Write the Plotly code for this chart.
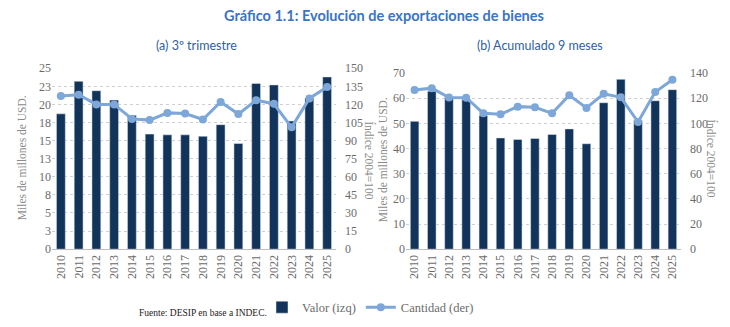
import plotly.graph_objects as go

years = [str(y) for y in range(2010, 2026)]

# (a) 3er trimestre
valor_a = [18.7, 23.2, 21.9, 20.6, 18.5, 15.9, 15.8, 15.8, 15.6, 17.2, 14.6, 22.9, 22.7, 17.7, 20.9, 23.8]
cant_a = [127, 128, 120, 120, 108, 107, 113, 112.5, 107.5, 122, 112, 123.5, 120.5, 101, 125, 134.5]

# (b) Acumulado 9 meses
valor_b = [50.8, 62.8, 60.4, 59.5, 53.1, 44.2, 43.6, 44.0, 45.6, 47.8, 41.9, 58.2, 67.5, 51.1, 59.0, 63.4]
cant_b = [126.5, 128, 120.5, 120.4, 108, 107.2, 113.3, 112.8, 108, 122.3, 112.3, 123.5, 120.7, 101.1, 125, 134.7]

left_a_vals = [0, 2.5, 5, 7.5, 10, 12.5, 15, 17.5, 20, 22.5, 25]
left_a_text = ["0", "3", "5", "8", "10", "13", "15", "18", "20", "23", "25"]
right_a_vals = list(range(0, 151, 15))
left_b_vals = list(range(0, 71, 10))
right_b_vals = list(range(0, 141, 20))

BAR = "#12345b"
LINE = "#7ca7d8"
GRAY = "#6b6b6b"
GRID = "#cfcfcf"
SERIF = "Liberation Serif"

W, H = 730, 327
def px(x): return x / W
def py(y): return (H - y) / H

fig = go.Figure()

fig.add_trace(go.Bar(x=years, y=valor_a, marker_color=BAR, name="Valor (izq)",
                     xaxis="x", yaxis="y", legendgroup="v"))
fig.add_trace(go.Scatter(x=years, y=cant_a, mode="lines+markers", name="Cantidad (der)",
                         line=dict(color=LINE, width=3), marker=dict(size=8, color=LINE),
                         xaxis="x", yaxis="y2", legendgroup="c"))
fig.add_trace(go.Bar(x=years, y=valor_b, marker_color=BAR, name="Valor (izq)", showlegend=False,
                     xaxis="x2", yaxis="y3", legendgroup="v"))
fig.add_trace(go.Scatter(x=years, y=cant_b, mode="lines+markers", name="Cantidad (der)", showlegend=False,
                         line=dict(color=LINE, width=3), marker=dict(size=8, color=LINE),
                         xaxis="x2", yaxis="y4", legendgroup="c"))

tickfont = dict(family=SERIF, size=12, color=GRAY)
ya_dom = [py(253), py(64)]
yb_dom = [py(253), py(69)]

xcommon = dict(type="category", tickangle=-90, tickfont=tickfont, showgrid=False,
               showline=True, linecolor="#bfbfbf", linewidth=1, ticks="", range=[-0.5, 15.5])
ycommon = dict(tickfont=tickfont, showgrid=True, gridcolor=GRID, griddash="dot",
               gridwidth=1, zeroline=False, ticks="", showline=False)

fig.update_layout(
    width=W, height=H,
    margin=dict(l=0, r=0, t=0, b=0),
    font=dict(family=SERIF, color=GRAY),
    paper_bgcolor="white", plot_bgcolor="white",
    bargap=0.5,
    showlegend=True,
    legend=dict(orientation="h", x=px(262), y=py(314), xanchor="left", yanchor="middle",
                font=dict(family=SERIF, size=12.5, color=GRAY), itemwidth=30,
                tracegroupgap=0, bgcolor="rgba(0,0,0,0)"),
    xaxis=dict(domain=[px(52), px(336)], anchor="y", **xcommon),
    yaxis=dict(domain=ya_dom, anchor="x", range=[0, 25], tickvals=left_a_vals,
               ticktext=left_a_text, **ycommon),
    yaxis2=dict(overlaying="y", side="right", anchor="x", range=[0, 150], tickvals=right_a_vals,
                tickfont=tickfont, showgrid=False, zeroline=False, ticks="", ticklabelstandoff=8),
    xaxis2=dict(domain=[px(406), px(681)], anchor="y3", **xcommon),
    yaxis3=dict(domain=yb_dom, anchor="x2", range=[0, 70], tickvals=left_b_vals, **ycommon),
    yaxis4=dict(overlaying="y3", side="right", anchor="x2", range=[0, 140], tickvals=right_b_vals,
                tickfont=tickfont, showgrid=False, zeroline=False, ticks="", ticklabelstandoff=8),
)

ann = []
ann.append(dict(text="Gráfico 1.1: Evolución de exportaciones de bienes", x=px(384), y=py(9),
                font=dict(family="Lato", size=14.5, color="#3a74c2", weight=700)))
ann.append(dict(text="(a) 3º trimestre", x=px(196), y=py(40),
                font=dict(family="Lato", size=12.5, color="#2f5f9e")))
ann.append(dict(text="(b) Acumulado 9 meses", x=px(540), y=py(40),
                font=dict(family="Lato", size=12.5, color="#2f5f9e")))
ann.append(dict(text="Miles de millones de USD.", x=px(22), y=py(158), textangle=-90,
                font=dict(family=SERIF, size=11.5, color="#8a8a8a")))
ann.append(dict(text="Índice 2004=100", x=px(370), y=py(160), textangle=90,
                font=dict(family=SERIF, size=11.5, color="#8a8a8a")))
ann.append(dict(text="Miles de millones de USD.", x=px(383), y=py(160), textangle=-90,
                font=dict(family=SERIF, size=11.5, color="#8a8a8a")))
ann.append(dict(text="Índice 2004=100", x=px(712), y=py(158), textangle=90,
                font=dict(family=SERIF, size=11.5, color="#8a8a8a")))
ann.append(dict(text="Fuente: DESIP en base a INDEC.", x=px(137), y=py(320), xanchor="left",
                font=dict(family=SERIF, size=9.5, color="#222222")))
for a in ann:
    a.setdefault("xanchor", "center")
    a.update(xref="paper", yref="paper", yanchor="middle", showarrow=False)
fig.update_layout(annotations=ann)

fig.write_html("out.html")
